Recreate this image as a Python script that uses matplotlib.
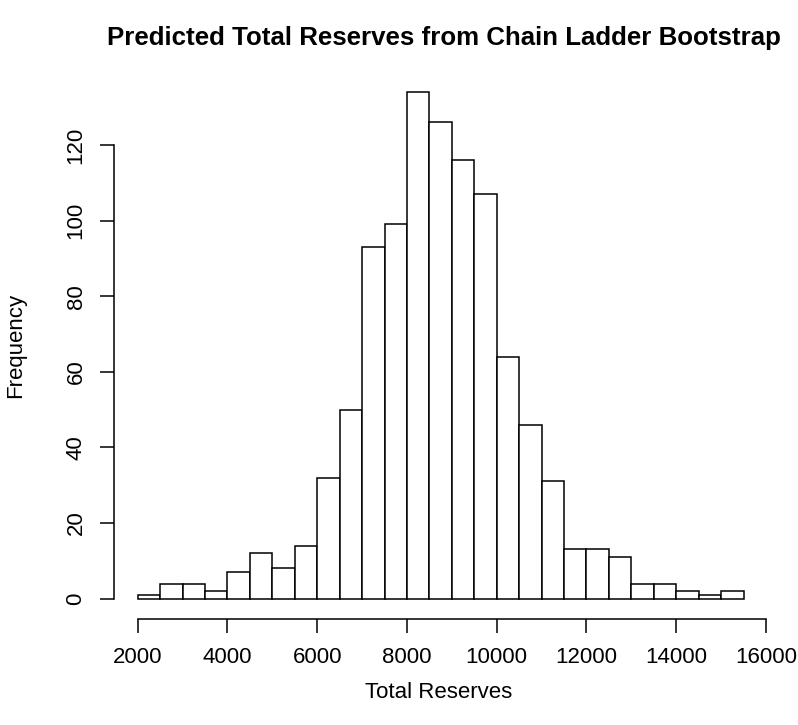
import numpy as np
import matplotlib
matplotlib.use("Agg")
import matplotlib.pyplot as plt

plt.rcParams['font.family'] = ['Liberation Sans', 'DejaVu Sans']

# histogram of bootstrap total reserves, 500-wide bins from 2000
bin_edges = np.arange(2000, 15501, 500)
counts = [1, 4, 4, 2, 7, 12, 8, 14,
          32, 50, 93, 99, 134, 126, 116, 107,
          64, 46, 31, 13, 13, 11, 4, 4, 2, 1, 2]
x_ticks = [2000, 4000, 6000, 8000, 10000, 12000, 14000, 16000]
y_ticks = [0, 20, 40, 60, 80, 100, 120]

W, H = 798, 725
fig = plt.figure(figsize=(W / 100, H / 100), dpi=100)
ax = fig.add_axes([113.5 / W, 1 - 618.9 / H, (767.8 - 113.5) / W, (618.9 - 71.8) / H])

ax.bar(bin_edges[:-1], counts, width=500, align='edge',
       facecolor='white', edgecolor='black', linewidth=1.1)

ax.set_xlim(1460, 16040)
ax.set_ylim(-5.36, 139.36)

for s in ['top', 'right']:
    ax.spines[s].set_visible(False)
ax.spines['bottom'].set_bounds(2000, 16000)
ax.spines['left'].set_bounds(0, 120)
ax.spines['bottom'].set_linewidth(1.1)
ax.spines['left'].set_linewidth(1.1)

ax.set_xticks(x_ticks)
ax.set_yticks(y_ticks)
ax.set_yticklabels([str(v) for v in y_ticks], rotation=90, va='center')
ax.tick_params(axis='x', length=10, width=1.1, labelsize=16, pad=10)
ax.tick_params(axis='y', length=9.8, width=1.1, labelsize=16, pad=9.6)

fig.text(444 / W, 1 - 38 / H,
         'Predicted Total Reserves from Chain Ladder Bootstrap',
         ha='center', va='center', fontsize=18.6, fontweight='bold')
fig.text(439 / W, 1 - 693 / H, 'Total Reserves',
         ha='center', va='center', fontsize=16)
fig.text(16 / W, 1 - 345 / H, 'Frequency', rotation=90,
         ha='center', va='center', fontsize=16)

fig.savefig('out.png', dpi=100)
